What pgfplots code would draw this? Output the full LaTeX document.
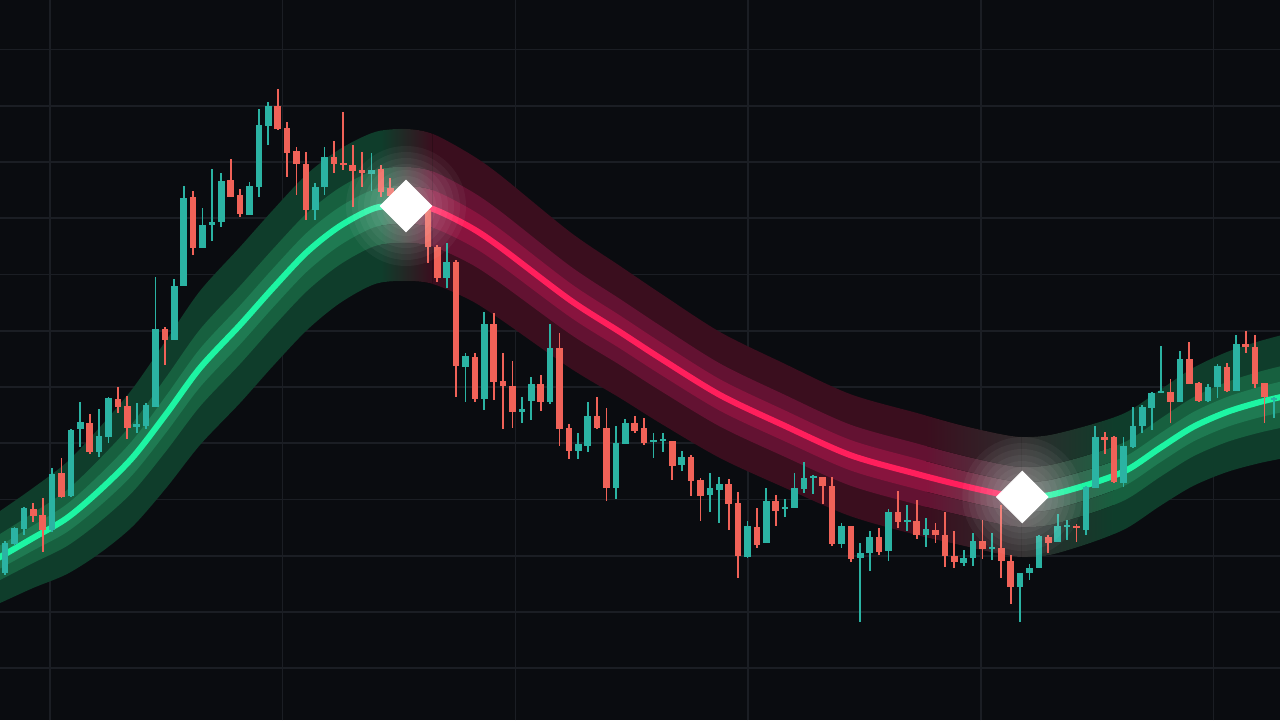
\documentclass[border=0pt]{standalone}
\usepackage{pgfplots}
\usepackage{pgfplotstable}
\pgfplotsset{compat=1.18}
\usepgfplotslibrary{fillbetween}

\definecolor{bg}{HTML}{0A0C10}
\definecolor{gridc}{HTML}{1B1E24}
\definecolor{cUp}{HTML}{2BB3A3}
\definecolor{cDn}{HTML}{F06258}
\definecolor{gOut}{HTML}{0F3D2B}
\definecolor{gMid}{HTML}{17603F}
\definecolor{gIn}{HTML}{1F7A52}
\definecolor{gLine}{HTML}{1DF5A3}
\definecolor{rOut}{HTML}{3A0E1E}
\definecolor{rMid}{HTML}{631232}
\definecolor{rIn}{HTML}{88143E}
\definecolor{rLine}{HTML}{FF1F5C}
\definecolor{xOut}{HTML}{2E2B2C}
\definecolor{xMid}{HTML}{463F41}
\definecolor{xIn}{HTML}{5A5053}

% trend band: t = bar index, m = mid price, w = outer half width
\pgfplotstableread{
t m w
-1.60 158 45
-0.53 163 46
2.98 182 50
6.60 202 56
10.11 230 63
13.62 263 69
17.23 307 74
20.74 352 77
25.00 395 78
28.51 432 78
32.13 468 78
35.64 494 77
39.36 512 76
42.66 515 76
45.53 511 75
49.47 493 73
52.66 473 72
60.11 420 68
65.43 388 66
69.68 362 65
76.06 325 63
82.77 295 62
89.89 265 61
97.02 246 61
101.60 235 60
105.85 226 60
108.19 223 60
111.17 225 60
115.74 237 59
119.36 250 58
122.87 272 58
126.38 293 59
130.00 308 60
133.51 318 61
136.70 325 62
}\band

% rising candles
\pgfplotstableread{
x o h l c
0 147 179 145 177
1 176 193 174 192
2 191 213 185 212
5 190 252 188 246
7 224 291 223 290
8 291 318 273 298
10 268 311 263 284
11 283 323 277 322
14 293 317 287 296
15 294 317 291 315
16 313 443 313 391
18 380 441 380 434
19 434 534 434 522
21 472 512 472 495
22 495 551 479 498
23 498 547 493 539
26 505 538 505 534
27 533 611 523 595
28 594 618 575 614
33 510 537 500 533
34 533 573 525 563
39 546 567 529 550
43 508 524 504 520
47 442 477 432 458
49 353 367 318 364
51 321 408 310 396
55 308 323 297 311
56 319 343 300 336
58 318 396 316 372
61 269 287 261 276
62 274 318 268 304
65 232 294 221 277
66 276 301 276 297
69 278 287 262 280
70 279 287 268 281
72 255 269 249 263
75 225 247 208 232
76 230 243 197 236
79 163 199 162 194
81 177 232 177 219
83 211 221 203 213
84 212 247 212 232
85 231 258 227 242
86 242 245 226 244
89 176 197 172 194
91 162 177 98 167
92 167 189 149 183
94 169 211 159 208
96 198 215 189 200
98 185 202 173 191
102 157 170 154 162
103 162 187 154 179
105 171 187 160 173
108 133 147 98 147
109 147 156 140 152
110 152 185 152 184
112 178 206 178 194
113 193 200 180 195
115 190 234 185 233
116 232 294 232 283
119 237 283 233 274
120 273 313 272 294
121 294 315 287 313
122 312 328 290 327
123 327 374 327 329
125 318 369 318 361
128 319 336 318 333
129 333 356 322 354
131 329 385 329 376
135 320 323 302 322
}\up

% falling candles
\pgfplotstableread{
x o h l c
3 211 217 198 204
4 205 222 168 190
6 247 262 222 223
9 297 306 266 268
12 321 333 307 313
13 314 324 281 292
17 391 393 355 380
20 523 529 465 472
24 540 561 523 523
25 525 531 503 506
29 614 631 590 591
30 592 598 543 567
31 569 573 525 556
32 556 568 500 510
35 563 579 547 556
36 557 608 550 555
37 555 575 513 549
38 550 568 533 547
40 551 555 523 528
41 532 542 522 524
42 525 530 510 515
44 520 523 504 510
45 510 510 457 473
46 473 475 438 442
48 458 460 323 354
50 363 367 318 321
52 396 407 320 338
53 339 367 291 334
54 334 359 292 308
57 336 345 309 318
59 372 387 274 291
60 292 296 261 269
63 304 323 291 292
64 292 312 219 232
67 297 304 287 289
68 292 302 275 277
71 279 279 240 254
73 263 265 224 239
74 240 242 199 224
77 236 241 190 216
78 217 228 142 164
80 193 212 172 175
82 219 225 194 209
87 243 243 216 234
88 234 243 174 176
90 194 194 158 161
93 183 192 165 168
95 208 229 192 198
97 199 220 181 185
99 190 197 177 185
100 185 208 153 164
101 164 189 152 158
104 179 200 161 171
106 172 215 142 159
107 159 165 116 133
111 183 185 167 177
114 194 196 178 192
117 283 288 266 280
118 283 284 237 238
124 328 341 297 318
126 361 378 336 336
127 337 338 318 319
130 353 357 328 329
132 376 389 367 373
133 373 385 332 336
134 337 337 297 323
}\dn

\pgfplotsset{
  nomark/.style={only marks, mark=*, mark size=0pt,
    mark options={draw=none, fill=none}, forget plot},
  wick/.style={nomark,
    error bars/.cd, y dir=both, y explicit, error mark=none,
    error bar style={line width=0.9pt}},
  body/.style={nomark,
    error bars/.cd, y dir=both, y explicit, error mark=none,
    error bar style={line width=3.3pt}},
}

\begin{document}
\begin{tikzpicture}
\begin{axis}[
  width=640pt, height=360pt, scale only axis,
  xmin=-0.532, xmax=135.64, ymin=0, ymax=720,
  axis line style={draw=none},
  axis background/.style={fill=bg},
  xtick={4.79,29.54,54.30,79.05,103.80,128.56},
  ytick={51.75,108,164.25,220.5,276.75,333,389.25,445.5,501.75,558,614.25,670.5},
  xticklabels={}, yticklabels={},
  major tick length=0pt,
  grid=major,
  grid style={line width=0.8pt, color=gridc},
]
% band edges
\addplot[draw=none, smooth, name path=o1, forget plot] table[x=t, y expr=\thisrow{m}+\thisrow{w}] {\band};
\addplot[draw=none, smooth, name path=o2, forget plot] table[x=t, y expr=\thisrow{m}-\thisrow{w}] {\band};
\addplot[draw=none, smooth, name path=m1, forget plot] table[x=t, y expr=\thisrow{m}+0.5*\thisrow{w}] {\band};
\addplot[draw=none, smooth, name path=m2, forget plot] table[x=t, y expr=\thisrow{m}-0.5*\thisrow{w}] {\band};
\addplot[draw=none, smooth, name path=i1, forget plot] table[x=t, y expr=\thisrow{m}+0.25*\thisrow{w}] {\band};
\addplot[draw=none, smooth, name path=i2, forget plot] table[x=t, y expr=\thisrow{m}-0.25*\thisrow{w}] {\band};

% band layers: green, fade to red at the first signal, fade through grey back to green at the second
\addplot[fill=gOut, draw=none] fill between[of=o1 and o2, soft clip={domain=-2:40}];
\addplot[left color=gOut, right color=rOut, draw=none] fill between[of=o1 and o2, soft clip={domain=40:45.5}];
\addplot[fill=rOut, draw=none] fill between[of=o1 and o2, soft clip={domain=45.5:98}];
\addplot[left color=rOut, right color=xOut, draw=none] fill between[of=o1 and o2, soft clip={domain=98:108.19}];
\addplot[left color=xOut, right color=gOut, draw=none] fill between[of=o1 and o2, soft clip={domain=108.19:118}];
\addplot[fill=gOut, draw=none] fill between[of=o1 and o2, soft clip={domain=118:140}];

\addplot[fill=gMid, draw=none] fill between[of=m1 and m2, soft clip={domain=-2:40}];
\addplot[left color=gMid, right color=rMid, draw=none] fill between[of=m1 and m2, soft clip={domain=40:45.5}];
\addplot[fill=rMid, draw=none] fill between[of=m1 and m2, soft clip={domain=45.5:98}];
\addplot[left color=rMid, right color=xMid, draw=none] fill between[of=m1 and m2, soft clip={domain=98:108.19}];
\addplot[left color=xMid, right color=gMid, draw=none] fill between[of=m1 and m2, soft clip={domain=108.19:118}];
\addplot[fill=gMid, draw=none] fill between[of=m1 and m2, soft clip={domain=118:140}];

\addplot[fill=gIn, draw=none] fill between[of=i1 and i2, soft clip={domain=-2:40}];
\addplot[left color=gIn, right color=rIn, draw=none] fill between[of=i1 and i2, soft clip={domain=40:45.5}];
\addplot[fill=rIn, draw=none] fill between[of=i1 and i2, soft clip={domain=45.5:98}];
\addplot[left color=rIn, right color=xIn, draw=none] fill between[of=i1 and i2, soft clip={domain=98:108.19}];
\addplot[left color=xIn, right color=gIn, draw=none] fill between[of=i1 and i2, soft clip={domain=108.19:118}];
\addplot[fill=gIn, draw=none] fill between[of=i1 and i2, soft clip={domain=118:140}];

% trend line
\addplot[gLine, line width=3pt, smooth, restrict x to domain=-2:42.7] table[x=t, y=m] {\band};
\addplot[rLine, line width=3pt, smooth, restrict x to domain=42.6:108.2] table[x=t, y=m] {\band};
\addplot[gLine, line width=3pt, smooth, restrict x to domain=108.1:140] table[x=t, y=m] {\band};

% glow around the signals
\pgfplotsinvokeforeach{3,6,9,12,15,18,21,24,27,30}{
  \addplot[only marks, mark=*, mark size=#1pt, forget plot,
    draw=none, draw opacity=0,
    mark options={draw=none, draw opacity=0, fill=white, fill opacity=0.045}]
    coordinates {(42.66,514) (108.22,223)};
}

% candles
\addplot[cUp, wick] table[x=x, y expr=(\thisrow{h}+\thisrow{l})/2,
  y error expr=(\thisrow{h}-\thisrow{l})/2] {\up};
\addplot[cUp, body] table[x=x, y expr=(\thisrow{o}+\thisrow{c})/2,
  y error expr={max(abs(\thisrow{c}-\thisrow{o})/2,1)}] {\up};
\addplot[cDn, wick] table[x=x, y expr=(\thisrow{h}+\thisrow{l})/2,
  y error expr=(\thisrow{h}-\thisrow{l})/2] {\dn};
\addplot[cDn, body] table[x=x, y expr=(\thisrow{o}+\thisrow{c})/2,
  y error expr={max(abs(\thisrow{c}-\thisrow{o})/2,1)}] {\dn};

% signal diamonds
\addplot[white, only marks, mark=square*, mark size=9.1pt,
  mark options={rotate=45, draw=white, fill=white, line width=0.5pt}]
  coordinates {(42.66,514) (108.22,223)};

\coordinate (bl) at (rel axis cs:0,0);
\coordinate (tr) at (rel axis cs:1,1);
\end{axis}
\pgfresetboundingbox
\useasboundingbox (bl) rectangle (tr);
\end{tikzpicture}
\end{document}
